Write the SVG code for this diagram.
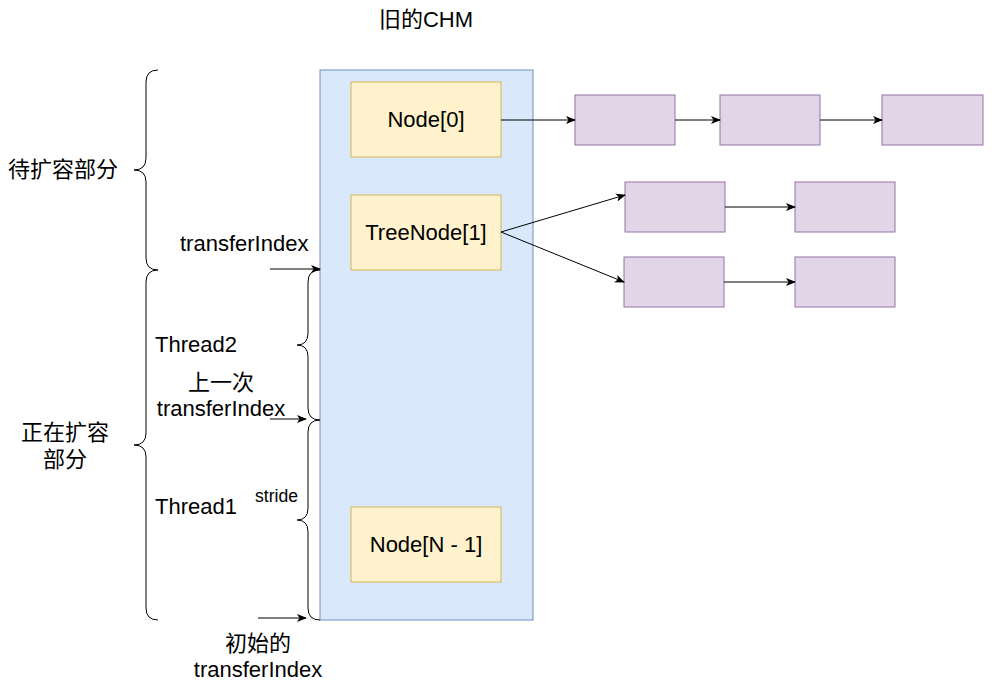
<svg xmlns="http://www.w3.org/2000/svg" width="1003" height="686" viewBox="0 0 1003 686">
<style>
.t{font-family:"Liberation Sans","Noto Sans CJK SC",Arial,sans-serif;font-size:22px;fill:#000}
.c{text-anchor:middle}
.box{fill:#fff2cc;stroke:#d6b656;stroke-width:1}
.p{fill:#e1d5e7;stroke:#9673a6;stroke-width:1}
.ln{fill:none;stroke:#000;stroke-width:1}
.br{fill:none;stroke:#000;stroke-width:1}
</style>
<defs>
<marker id="ar" viewBox="0 0 10 10" refX="9" refY="5" markerWidth="10" markerHeight="10" markerUnits="userSpaceOnUse" orient="auto">
<path d="M0,1 L10,5 L0,9 L2.5,5 Z" fill="#000"/>
</marker>
</defs>
<rect width="1003" height="686" fill="#fff"/>
<g id="chm">
<rect x="320" y="70" width="213" height="550" fill="#dae8fc" stroke="#6c8ebf"/>
<text class="t c" x="426" y="27">旧的CHM</text>
</g>
<g id="node0"><rect class="box" x="351" y="82" width="150" height="75"/><text class="t c" x="426" y="127">Node[0]</text></g>
<g id="treenode1"><rect class="box" x="351" y="195" width="150" height="75"/><text class="t c" x="426" y="240">TreeNode[1]</text></g>
<g id="nodeN"><rect class="box" x="351" y="507" width="150" height="75"/><text class="t c" x="426" y="552">Node[N - 1]</text></g>
<g id="p1"><rect class="p" x="575" y="95" width="100" height="50"/></g>
<g id="p2"><rect class="p" x="720" y="95" width="100" height="50"/></g>
<g id="p3"><rect class="p" x="882" y="95" width="101" height="50"/></g>
<g id="p4"><rect class="p" x="625" y="182" width="100" height="50"/></g>
<g id="p5"><rect class="p" x="795" y="182" width="100" height="50"/></g>
<g id="p6"><rect class="p" x="624" y="257" width="100" height="50"/></g>
<g id="p7"><rect class="p" x="795" y="257" width="100" height="50"/></g>
<g id="braces">
<path class="br" d="M158,70 Q146,70 146,82 L146,158 Q146,170 134,170 Q146,170 146,182 L146,258 Q146,270 158,270"/>
<path class="br" d="M158,270 Q146,270 146,282 L146,433 Q146,445 134,445 Q146,445 146,457 L146,608 Q146,620 158,620"/>
<path class="br" d="M320,270 Q308,270 308,282 L308,333 Q308,345 297,345 Q308,345 308,357 L308,408 Q308,420 320,420"/>
<path class="br" d="M320,420 Q308,420 308,432 L308,508 Q308,520 297,520 Q308,520 308,532 L308,608 Q308,620 320,620"/>
</g>
<g id="labels">
<text class="t" x="8" y="177">待扩容部分</text>
<text class="t" x="180" y="251">transferIndex</text>
<text class="t" x="155" y="352">Thread2</text>
<text class="t c" x="221" y="390">上一次</text>
<text class="t c" x="221" y="416">transferIndex</text>
<text class="t c" x="65" y="440">正在扩容</text>
<text class="t c" x="65" y="467">部分</text>
<text class="t" x="155" y="514">Thread1</text>
<text class="t" x="255" y="502" style="font-size:17.6px">stride</text>
<text class="t c" x="258" y="651">初始的</text>
<text class="t c" x="258" y="677">transferIndex</text>
</g>
<g id="connectors">
<line class="ln" x1="501" y1="120" x2="575" y2="120" marker-end="url(#ar)"/>
<line class="ln" x1="675" y1="120" x2="720" y2="120" marker-end="url(#ar)"/>
<line class="ln" x1="820" y1="120" x2="882" y2="120" marker-end="url(#ar)"/>
<line class="ln" x1="501" y1="232" x2="625" y2="195" marker-end="url(#ar)"/>
<line class="ln" x1="501" y1="232" x2="624" y2="282" marker-end="url(#ar)"/>
<line class="ln" x1="725" y1="207" x2="795" y2="207" marker-end="url(#ar)"/>
<line class="ln" x1="724" y1="282" x2="795" y2="282" marker-end="url(#ar)"/>
<line class="ln" x1="270" y1="269" x2="320" y2="269" marker-end="url(#ar)"/>
<line class="ln" x1="270" y1="419" x2="306" y2="419" marker-end="url(#ar)"/>
<line class="ln" x1="258" y1="618" x2="306" y2="618" marker-end="url(#ar)"/>
</g>
</svg>
